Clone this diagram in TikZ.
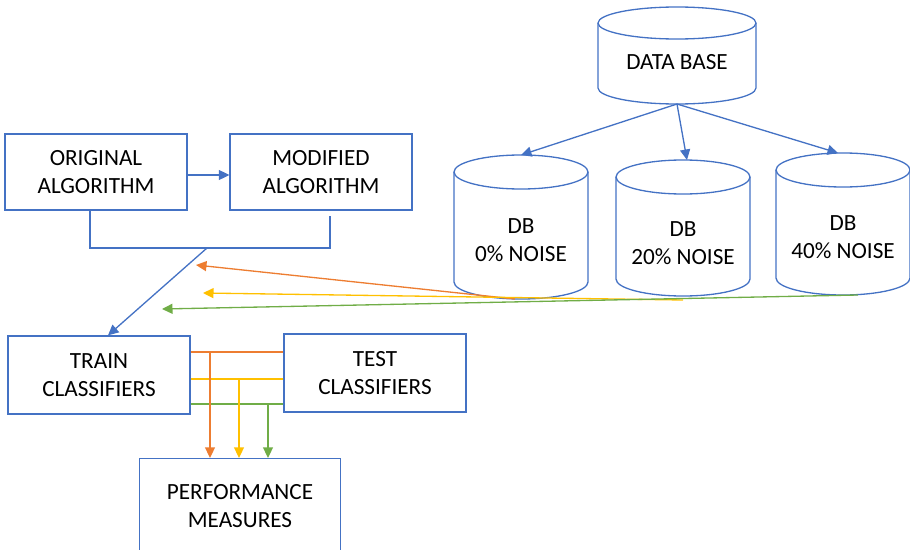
\documentclass[tikz,border=0pt]{standalone}
\usepackage{fontspec}
\setmainfont{Carlito}
\usepackage{tikz}
\usetikzlibrary{arrows.meta}

\definecolor{msblue}{HTML}{4472C4}
\definecolor{msorange}{HTML}{ED7D31}
\definecolor{msyellow}{HTML}{FFC000}
\definecolor{msgreen}{HTML}{70AD47}

% cylinder: name, centre x, top y, bottom y, x radius, y radius
\newcommand{\dbcyl}[6]{%
  \draw[cyl] (#2-#5,#3) -- (#2-#5,#4) arc[start angle=180, end angle=360, x radius=#5, y radius=#6] -- (#2+#5,#3);
  \draw[cyl] (#2,#3) ellipse[x radius=#5, y radius=#6];
  \coordinate (#1-top) at (#2,#3+#6); \coordinate (#1-bot) at (#2,#4-#6);
}

\begin{document}
\begin{tikzpicture}[x=0.02cm, y=0.02cm, font=\fontsize{13.2}{16}\selectfont,
  box/.style={draw=msblue, line width=0.75pt, minimum width=3.64cm, minimum height=1.52cm, align=center},
  cyl/.style={draw=msblue, line width=0.75pt},
  link/.style={line width=0.75pt},
  tip/.style={-{Triangle[length=0.21cm, width=0.2cm]}}]
  \useasboundingbox (0,0) rectangle (910,549);

  % algorithms and classifiers
  \node[box] (orig) at (96,377) {ORIGINAL\\ALGORITHM};
  \node[box] (mod) at (321,377) {MODIFIED\\ALGORITHM};
  \node[box, minimum height=1.56cm] (train) at (99,174) {TRAIN\\CLASSIFIERS};
  \node[box, minimum height=1.56cm] (test) at (375,176) {TEST\\CLASSIFIERS};
  \node[box, minimum width=4.02cm, minimum height=1.9cm] (perf) at (240,43) {PERFORMANCE\\MEASURES};

  % data bases
  \dbcyl{dbase}{677}{526}{461}{79}{16}
  \node[align=center] (dbtxt) at (677,487) {DATA BASE};
  \dbcyl{db0}{521}{377}{267}{67}{17}
  \node[align=center] (db0txt) at (521,309) {DB\\0\% NOISE};
  \dbcyl{db20}{683}{372}{270}{67}{17}
  \node[align=center] (db20txt) at (683,306) {DB\\20\% NOISE};
  \dbcyl{db40}{843}{379}{271}{67}{17}
  \node[align=center] (db40txt) at (843,312) {DB\\40\% NOISE};

  \draw[link, msblue, tip] (dbase-bot) -- (db0-top);
  \draw[link, msblue, tip] (dbase-bot) -- ([xshift=0.08cm]db20-top);
  \draw[link, msblue, tip] (dbase-bot) -- ([xshift=-0.1cm]db40-top);

  % algorithm bracket
  \coordinate (join) at (207,301);
  \draw[link, msblue, tip] ([yshift=-0.06cm]orig.east) -- ([yshift=-0.06cm]mod.west);
  \draw[link, msblue] ([xshift=-0.12cm]orig.south) |- (join) -| ([xshift=0.18cm, yshift=-0.1cm]mod.south);
  \draw[link, msblue, tip] (join) -- ([xshift=0.18cm]train.north);

  % noisy data to training
  \coordinate (o-end) at (196,284);
  \coordinate (y-end) at (203,256);
  \coordinate (g-end) at (162,240);
  \draw[link, msorange, tip] ([xshift=-0.12cm]db0-bot) -- (o-end);
  \draw[link, msyellow, tip] ([yshift=-0.08cm]db20-bot) -- (y-end);
  \draw[link, msgreen, tip] ([xshift=0.3cm]db40-bot) -- (g-end);

  % train/test to performance
  \coordinate (o-lvl) at (210,197);
  \coordinate (y-lvl) at (239,170);
  \coordinate (g-lvl) at (268,145);
  \draw[link, msorange] (train.east |- o-lvl) -- (test.west |- o-lvl);
  \draw[link, msyellow] (train.east |- y-lvl) -- (test.west |- y-lvl);
  \draw[link, msgreen] (train.east |- g-lvl) -- (test.west |- g-lvl);
  \draw[link, msorange, tip] (o-lvl) -- (o-lvl |- perf.north);
  \draw[link, msyellow, tip] (y-lvl) -- (y-lvl |- perf.north);
  \draw[link, msgreen, tip] (g-lvl) -- (g-lvl |- perf.north);
\end{tikzpicture}
\end{document}
